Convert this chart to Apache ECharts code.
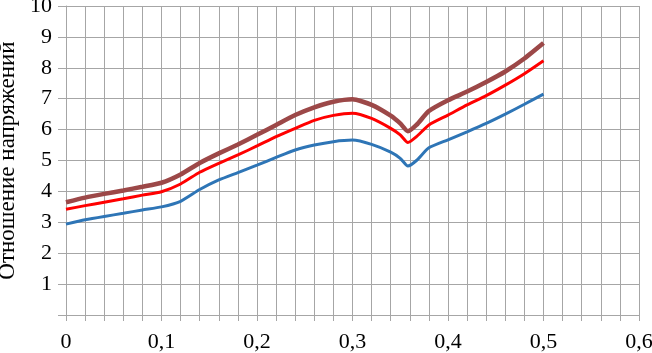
<!DOCTYPE html>
<html>
<head>
<meta charset="utf-8">
<script src="https://cdn.jsdelivr.net/npm/echarts@6/dist/echarts.min.js"></script>
<style>html,body{margin:0;padding:0;background:#fff;}#c{width:652px;height:353px;}</style>
</head>
<body>
<div id="c"></div>
<script>
var xValues = [0, 0.02, 0.04, 0.06, 0.08, 0.10, 0.12, 0.14, 0.16, 0.18, 0.20, 0.22, 0.24, 0.26, 0.28, 0.30, 0.32, 0.34, 0.35, 0.358, 0.367, 0.38, 0.40, 0.42, 0.44, 0.46, 0.48, 0.50];
var blueValues = [2.94, 3.08, 3.19, 3.29, 3.40, 3.50, 3.68, 4.06, 4.37, 4.61, 4.85, 5.10, 5.34, 5.50, 5.61, 5.66, 5.52, 5.27, 5.07, 4.82, 5.00, 5.41, 5.67, 5.93, 6.20, 6.50, 6.82, 7.15];
var redValues = [3.42, 3.54, 3.65, 3.76, 3.88, 3.99, 4.24, 4.62, 4.91, 5.18, 5.47, 5.77, 6.04, 6.30, 6.46, 6.53, 6.36, 6.04, 5.83, 5.58, 5.77, 6.15, 6.47, 6.80, 7.10, 7.44, 7.81, 8.23];
var brownValues = [3.65, 3.80, 3.92, 4.03, 4.15, 4.28, 4.55, 4.92, 5.23, 5.52, 5.83, 6.15, 6.47, 6.72, 6.90, 6.98, 6.80, 6.45, 6.20, 5.95, 6.15, 6.60, 6.95, 7.23, 7.54, 7.88, 8.30, 8.80];
var yAxisTitle = 'Отношение напряжений';

function pairs(vals) { return xValues.map(function (x, i) { return [x, vals[i]]; }); }

var gridColor = '#a6a6a6';
var font = '"Liberation Serif", "Times New Roman", serif';
var chart = echarts.init(document.getElementById('c'));
chart.setOption({
  animation: false,
  grid: { left: 66, right: 13, top: 6, bottom: 38, containLabel: false, outerBoundsMode: 'none' },
  xAxis: {
    type: 'value', min: 0, max: 0.6, interval: 0.1,
    axisLine: { show: true, lineStyle: { color: gridColor, width: 1 } },
    axisTick: { show: true, length: 6, lineStyle: { color: gridColor } },
    minorTick: { show: true, splitNumber: 5, length: 6, lineStyle: { color: gridColor } },
    splitLine: { show: true, lineStyle: { color: gridColor, width: 1 } },
    minorSplitLine: { show: true, lineStyle: { color: gridColor, width: 1 } },
    axisLabel: { color: '#000', fontFamily: font, fontSize: 22, margin: 16,
      formatter: function (v) { return String(Math.round(v * 10) / 10).replace('.', ','); } }
  },
  yAxis: {
    type: 'value', min: 0, max: 10, interval: 1,
    name: yAxisTitle, nameLocation: 'middle', nameGap: 41,
    nameTextStyle: { color: '#000', fontFamily: font, fontSize: 23 },
    axisLine: { show: true, lineStyle: { color: gridColor, width: 1 } },
    axisTick: { show: true, length: 8, lineStyle: { color: gridColor } },
    splitLine: { show: true, lineStyle: { color: gridColor, width: 1 } },
    axisLabel: { color: '#000', fontFamily: font, fontSize: 22, margin: 14,
      formatter: function (v) { return v === 0 ? '' : String(v); } }
  },
  series: [
    { type: 'line', data: pairs(blueValues), showSymbol: false, smooth: 0.2,
      lineStyle: { color: '#2e75b6', width: 3 } },
    { type: 'line', data: pairs(redValues), showSymbol: false, smooth: 0.2,
      lineStyle: { color: '#ff0000', width: 3 } },
    { type: 'line', data: pairs(brownValues), showSymbol: false, smooth: 0.2,
      lineStyle: { color: '#9c4848', width: 4.5 } }
  ]
});
</script>
</body>
</html>
